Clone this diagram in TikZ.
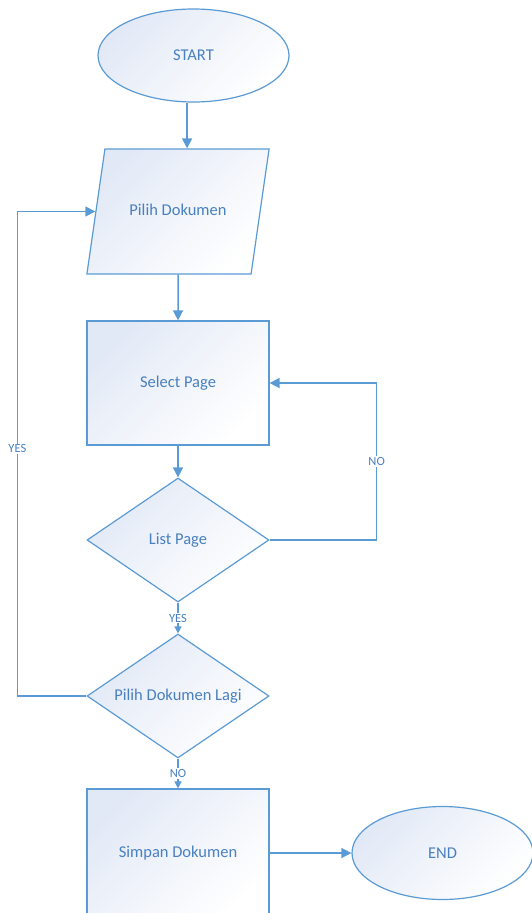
\documentclass[tikz,border=0pt]{standalone}
\usepackage{fontspec}
\setmainfont{Carlito}
\usetikzlibrary{shapes.geometric,arrows.meta}
\definecolor{flowline}{RGB}{91,155,213}
\definecolor{flowtext}{RGB}{72,128,192}
\definecolor{flowfill}{RGB}{226,233,246}
\begin{document}
\begin{tikzpicture}[x=1pt, y=-1pt, >={Triangle[length=10pt,width=10pt]},
    box/.style={draw=flowline, line width=1.2pt, top color=flowfill, bottom color=white,
      shading angle=45, text=flowtext, font=\fontsize{16.5}{20}\selectfont, inner sep=0pt},
    terminal/.style={box, ellipse, minimum width=191pt, minimum height=93pt},
    inout/.style={box, trapezium, trapezium left angle=81.8, trapezium right angle=98.2,
      text height=12pt, text depth=4pt, inner xsep=24.5pt, inner ysep=54.5pt},
    process/.style={box, rectangle, minimum width=182pt, minimum height=124pt},
    decision/.style={box, diamond, aspect=1.47, minimum width=182pt, minimum height=124pt},
    flow/.style={draw=flowline, line width=1.5pt},
    smallhead/.style={-{Triangle[length=7pt,width=7pt]}},
    tag/.style={fill=white, text=flowtext, inner sep=1pt, font=\fontsize{12.5}{14}\selectfont}]
        % page
        \useasboundingbox (0,0) rectangle (532,913);
        \clip (0,0) rectangle (532,913);
        % shapes
        \node[terminal] (start) at (193.5,55.5) {START};
        \node[inout] (pilih) at (178,211.5) {Pilih Dokumen};
        \node[process] (select) at (178,383) {Select Page};
        \node[decision] (list) at (178,540) {List Page};
        \node[decision] (lagi) at (178,696) {Pilih Dokumen Lagi};
        \node[process, minimum height=128pt] (simpan) at (178,853) {Simpan Dokumen};
        \node[terminal, minimum width=181pt] (end) at (442.5,853) {END};

        % arrows
        \draw[flow,->] (start.south -| pilih.top side) -- (pilih.top side);
        \draw[flow,->] (pilih) -- (select);
        \draw[flow,->] (select) -- (list);
        \draw[flow,->] (list.east) -- ++(107,0) |- node[tag, pos=0.25] {NO} (select.east);
        \draw[flow,smallhead] (list) -- node[tag] {YES} (lagi);
        \draw[flow,->] (lagi.west) -- ++(-69,0) |- node[tag, pos=0.255] {YES} (pilih.left side);
        \draw[flow,smallhead] (lagi) -- node[tag] {NO} (simpan);
        \draw[flow,->] (simpan) -- (end);
\end{tikzpicture}
\end{document}
